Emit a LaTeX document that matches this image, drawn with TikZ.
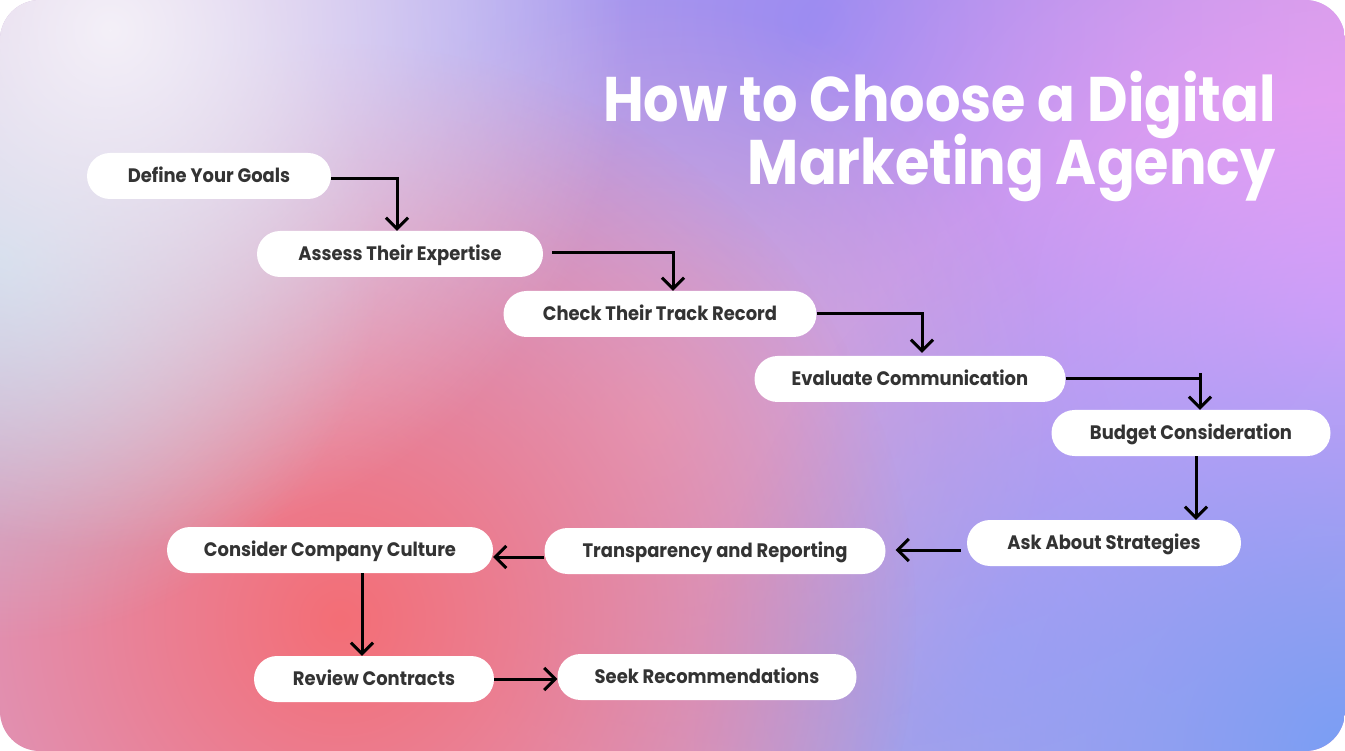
\documentclass[tikz,border=0pt]{standalone}
\usepackage{fontspec}
\setmainfont{Poppins}[FakeStretch=0.92]
\newfontfamily\titlefont{Poppins}[FakeStretch=0.885]
\usetikzlibrary{arrows.meta,fadings}
\definecolor{basecol}{HTML}{D6A6D6}
\definecolor{c1}{HTML}{F4F0F8}
\definecolor{c2}{HTML}{BCD0E4}
\definecolor{c3}{HTML}{9C8CF2}
\definecolor{c4}{HTML}{F4A0FC}
\definecolor{c5}{HTML}{F46E76}
\definecolor{c6}{HTML}{7A9EF4}
\definecolor{c7}{HTML}{AAA4F0}
\definecolor{c8}{HTML}{DCAAD4}
\definecolor{c9}{HTML}{C4BCEC}
\definecolor{textgrey}{HTML}{333333}
\tikzfading[name=blob, inner color=transparent!0, outer color=transparent!100]
\tikzset{
  stepbox/.style={fill=white, rounded corners=23pt, minimum height=46pt, inner sep=0pt,
    font=\fontsize{19.5}{19.5}\selectfont\bfseries, text=textgrey, text height=13.6pt, text depth=0pt},
  arr/.style={line width=3pt, -{Straight Barb[length=11pt,width=22pt,line width=3pt]}},
  plainline/.style={line width=3pt},
  titletext/.style={inner sep=0pt, text=white, font=\titlefont\fontsize{63}{63}\selectfont\bfseries}
}
\begin{document}
\begin{tikzpicture}[x=1pt,y=-1pt]
\useasboundingbox (0,0) rectangle (1345,751);
\fill[white] (0,0) rectangle (1345,751);
\begin{scope}
\clip[rounded corners=40pt] (0,0) rectangle (1345,751);
\fill[basecol] (0,0) rectangle (1345,751);
\fill[c7, path fading=blob] (1000,640) circle (500);
\fill[c9, path fading=blob] (480,0) circle (450);
\fill[c3, path fading=blob] (820,20) circle (760);
\fill[c4, path fading=blob] (1345,320) circle (620);
\fill[c8, path fading=blob] (650,420) circle (420);
\fill[c6, path fading=blob] (1345,751) circle (650);
\fill[c5, path fading=blob] (340,620) circle (580);
\fill[c2, path fading=blob] (0,260) circle (380);
\fill[c1, path fading=blob] (110,30) circle (520);
\end{scope}

\node[titletext, anchor=base east] (t1) at (1276,122) {How to Choose a Digital};
\node[titletext, anchor=base east] (t2) at (1276,185) {Marketing Agency};

\node[stepbox, minimum width=244pt] (n1) at (209,176) {Define Your Goals};
\node[stepbox, minimum width=286pt] (n2) at (400,254) {Assess Their Expertise};
\node[stepbox, minimum width=313pt] (n3) at (660,314) {Check Their Track Record};
\node[stepbox, minimum width=311pt] (n4) at (910,379) {Evaluate Communication};
\node[stepbox, minimum width=279pt] (n5) at (1191,433) {Budget Consideration};
\node[stepbox, minimum width=274pt] (n6) at (1104,543) {Ask About Strategies};
\node[stepbox, minimum width=341pt] (n7) at (715,551) {Transparency and Reporting};
\node[stepbox, minimum width=326pt] (n8) at (330,550) {Consider Company Culture};
\node[stepbox, minimum width=240pt] (n9) at (374,679) {Review Contracts};
\node[stepbox, minimum width=299pt] (n10) at (707,677) {Seek Recommendations};

\draw[arr] ([yshift=-3pt]n1.east) -| ([xshift=-3pt]n2.north);
\draw[arr] ([xshift=9pt,yshift=1pt]n2.east) -| ([xshift=13pt]n3.north);
\draw[arr] (n3.east) -| ([xshift=12pt,yshift=3pt]n4.north);
\draw[arr] (n4.east) -| ([xshift=9pt]n5.north);
\coordinate (tick) at ([xshift=9pt,yshift=6pt]n5.north |- n4.east);
\draw[plainline] (tick) -- ([xshift=9pt]n5.north |- n4.east);
\draw[arr] ([xshift=5pt]n5.south) -- ([xshift=5pt]n5.south |- n6.north);
\draw[arr] ([xshift=-6pt,yshift=-7pt]n6.west) -- ([xshift=10pt,yshift=1pt]n7.east);
\draw[arr] ([yshift=-6pt]n7.west) -- ([yshift=-7pt]n8.east);
\draw[arr] ([xshift=32pt]n8.south) -- ([xshift=32pt]n8.south |- n9.north);
\draw[arr] (n9.east) -- (n9.east -| n10.west);
\end{tikzpicture}
\end{document}
